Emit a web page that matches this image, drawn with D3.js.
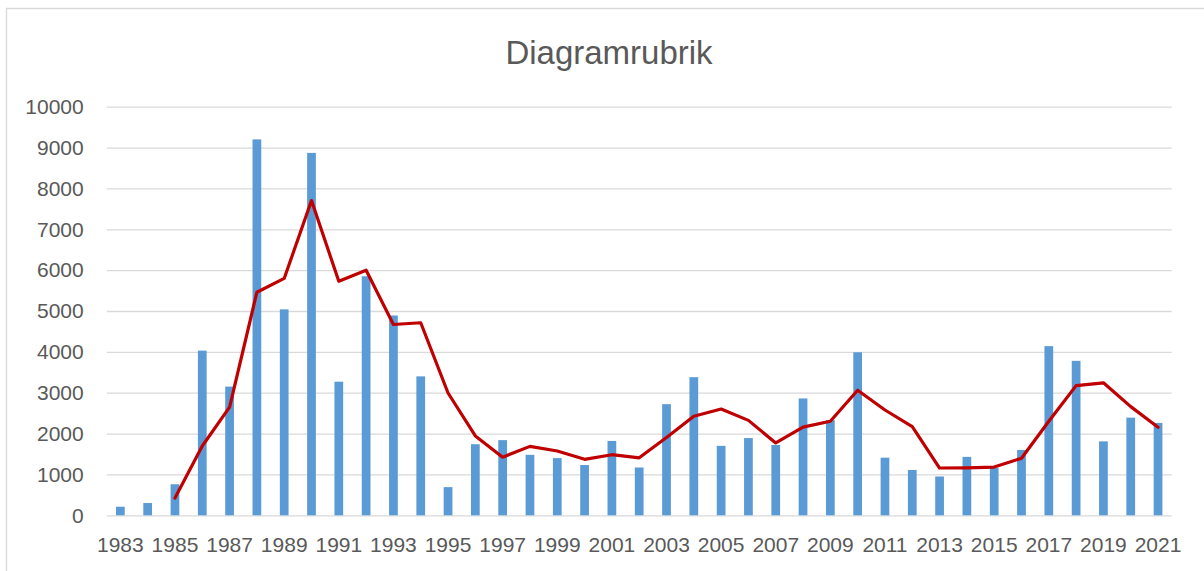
<!DOCTYPE html>
<html>
<head>
<meta charset="utf-8">
<script src="https://cdn.jsdelivr.net/npm/d3@7"></script>
<style>
  html, body { margin: 0; padding: 0; background: #fff; }
  svg { display: block; }
</style>
</head>
<body>
<svg id="chart" width="1204" height="571"></svg>
<script>
const title = "Diagramrubrik";
const years = [1983,1984,1985,1986,1987,1988,1989,1990,1991,1992,1993,1994,1995,1996,1997,1998,1999,2000,2001,2002,2003,2004,2005,2006,2007,2008,2009,2010,2011,2012,2013,2014,2015,2016,2017,2018,2019,2020,2021];
const barValues = [210,300,760,4030,3150,9200,5040,8870,3270,5850,4890,3400,690,1740,1840,1480,1400,1230,1820,1170,2720,3380,1700,1890,1720,2860,2330,3990,1410,1110,950,1430,1160,1600,4140,3780,1810,2390,2260];
const lineYears = [1985,1986,1987,1988,1989,1990,1991,1992,1993,1994,1995,1996,1997,1998,1999,2000,2001,2002,2003,2004,2005,2006,2007,2008,2009,2010,2011,2012,2013,2014,2015,2016,2017,2018,2019,2020,2021];
const lineValues = [423,1697,2647,5460,5797,7703,5727,5997,4670,4713,2993,1943,1423,1687,1573,1370,1483,1407,1903,2423,2600,2323,1770,2157,2303,3060,2577,2170,1157,1163,1180,1397,2300,3173,3243,2660,2153];
const yTicks = [0,1000,2000,3000,4000,5000,6000,7000,8000,9000,10000];
const xTickLabels = years.filter((y, i) => i % 2 === 0);

const svg = d3.select("#chart");
const plot = { left: 106.7, right: 1171.7, top: 106.7, bottom: 515.3 };

// chart border (left + top visible)
svg.append("path")
  .attr("d", `M6.5,571 L6.5,8.5 L1204,8.5`)
  .attr("fill", "none").attr("stroke", "#d9d9d9").attr("stroke-width", 1.3);

const x = d3.scaleBand().domain(years).range([plot.left, plot.right])
  .paddingInner(0.68).paddingOuter(0.34);
const y = d3.scaleLinear().domain([0, 10000]).range([plot.bottom, plot.top]);

// gridlines
const yAxis = d3.axisLeft(y).tickValues(yTicks).tickSize(-(plot.right - plot.left)).tickPadding(23).tickFormat(d3.format("d"));
const gy = svg.append("g").attr("transform", `translate(${plot.left},0)`).call(yAxis);
gy.select(".domain").remove();
gy.selectAll(".tick line").attr("stroke", "#d9d9d9").attr("stroke-width", 1.3);
gy.selectAll(".tick text").attr("fill", "#595959")
  .style("font-family", "'Liberation Sans', Arial, sans-serif").style("font-size", "21px");

// bars
svg.append("g").selectAll("rect").data(years).join("rect")
  .attr("x", d => x(d))
  .attr("width", x.bandwidth())
  .attr("y", (d, i) => y(barValues[i]))
  .attr("height", (d, i) => y(0) - y(barValues[i]))
  .attr("fill", "#5B9BD5");

// x axis labels
const xAxis = d3.axisBottom(x).tickValues(xTickLabels).tickSize(0).tickPadding(22);
const gx = svg.append("g").attr("transform", `translate(0,${plot.bottom})`).call(xAxis);
gx.select(".domain").remove();
gx.selectAll(".tick text").attr("fill", "#595959")
  .style("font-family", "'Liberation Sans', Arial, sans-serif").style("font-size", "21px");

// moving average line
const line = d3.line()
  .x((d, i) => x(lineYears[i]) + x.bandwidth() / 2)
  .y(d => y(d));
svg.append("path").datum(lineValues)
  .attr("d", line)
  .attr("fill", "none").attr("stroke", "#C00000").attr("stroke-width", 3.2)
  .attr("stroke-linejoin", "round").attr("stroke-linecap", "round");

// title
svg.append("text").attr("x", 609).attr("y", 64).attr("text-anchor", "middle")
  .attr("fill", "#595959")
  .style("font-family", "'Liberation Sans', Arial, sans-serif").style("font-size", "33px")
  .text(title);
</script>
</body>
</html>
